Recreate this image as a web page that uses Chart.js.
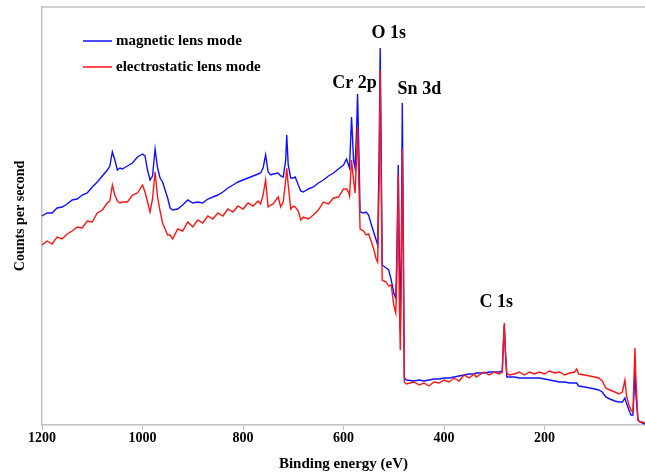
<!DOCTYPE html>
<html>
<head>
<meta charset="utf-8">
<script src="https://cdn.jsdelivr.net/npm/chart.js@4"></script>
<style>
  html, body { margin: 0; padding: 0; background: #ffffff; }
  #wrap { width: 645px; height: 476px; position: relative; }
</style>
</head>
<body>
<div id="wrap"><canvas id="xps"></canvas></div>
<script>
// ====== colours ======
const BLUE_COLOR = '#1010ff';   // magnetic lens mode
const RED_COLOR = '#ff1414';    // electrostatic lens mode
const FRAME_COLOR = '#c0c0c0';
const SERIF = '"Liberation Serif", "Times New Roman", serif';

// ====== data (binding energy, eV / counts per second, a.u.) ======
const ENERGY = [
  1200, 1190, 1180, 1170, 1160, 1150, 1140, 1130, 1120, 1110, 1100, 1090, 1080, 1070, 1065, 1060, 1055, 1050, 1045, 1040,
  1030, 1020, 1010, 1000, 995, 990, 985, 980, 975, 970, 965, 960, 955, 950, 945, 940, 930, 920, 910, 900,
  890, 880, 870, 860, 850, 840, 830, 820, 810, 800, 790, 780, 770, 765, 760, 755, 750, 745, 740, 730,
  725, 720, 715, 713, 710, 705, 700, 696, 690, 685, 680, 670, 660, 650, 640, 630, 620, 610, 600, 594,
  590, 588, 584, 580, 577, 574, 572, 569, 567, 560, 555, 550, 545, 540, 535, 532, 529, 527, 525, 523,
  515, 510, 505, 500, 496, 494, 491, 489, 487, 485, 483, 481, 479, 475, 460, 449, 440, 430, 420, 410,
  400, 390, 380, 370, 360, 350, 340, 336, 320, 310, 300, 290, 284, 282, 280, 278, 275, 270, 260, 250,
  240, 230, 220, 210, 200, 190, 180, 170, 160, 150, 140, 136, 132, 120, 110, 100, 92, 85, 78, 70,
  60, 52, 45, 40, 37, 32, 28, 24, 22, 20, 18, 14, 10, 5, 0
];

const MAGNETIC = [
  209, 212, 212, 217, 218, 221, 225, 226, 230, 232, 238, 243, 249, 255, 259, 273, 265, 255, 257, 256,
  259, 262, 268, 271, 269, 255, 245, 249, 276, 257, 247, 243, 235, 227, 217, 215, 216, 220, 225, 222,
  223, 222, 226, 228, 230, 233, 237, 240, 243, 245, 247, 249, 251, 252, 257, 270, 253, 250, 251, 252,
  249, 248, 265, 290, 260, 247, 247, 248, 240, 234, 233, 236, 238, 242, 245, 249, 252, 256, 260, 266,
  260, 257, 308, 265, 257, 295, 331, 265, 213, 212, 213, 210, 201, 193, 185, 180, 275, 377, 275, 160,
  157, 155, 145, 132, 127, 165, 260, 175, 95, 175, 322, 195, 47, 45, 44, 45, 44, 45, 46, 46,
  47, 47, 48, 49, 50, 51, 51, 52, 52, 53, 53, 53, 54, 80, 100, 75, 48, 48, 48, 47,
  47, 47, 47, 47, 46, 45, 44, 43, 43, 42, 42, 42, 39, 38, 37, 36, 35, 33, 28, 26,
  24, 23, 23, 27, 22, 15, 10, 10, 30, 57, 30, 5, 3, 2, 1
];

const ELECTROSTATIC = [
  180, 184, 181, 188, 186, 191, 194, 198, 197, 204, 203, 212, 215, 222, 224, 240, 230, 224, 222, 223,
  223, 230, 232, 240, 233, 223, 213, 226, 253, 228, 214, 202, 196, 190, 190, 186, 196, 194, 203, 198,
  205, 202, 209, 206, 212, 209, 216, 213, 219, 216, 222, 219, 224, 221, 230, 245, 218, 220, 221, 228,
  218, 223, 245, 257, 240, 216, 219, 218, 214, 205, 208, 206, 210, 215, 223, 221, 227, 228, 236, 236,
  233, 229, 265, 245, 232, 265, 298, 235, 196, 194, 190, 191, 184, 176, 166, 163, 245, 355, 245, 145,
  143, 139, 140, 120, 112, 145, 250, 125, 75, 145, 276, 165, 43, 41, 43, 40, 42, 39, 43, 42,
  45, 43, 47, 44, 50, 47, 51, 48, 53, 50, 53, 51, 53, 80, 102, 75, 52, 50, 51, 53,
  50, 53, 51, 53, 51, 54, 52, 53, 50, 52, 53, 56, 51, 50, 49, 48, 47, 44, 37, 35,
  33, 31, 33, 45, 30, 20, 15, 13, 45, 77, 45, 5, 3, 3, 2
];

const SERIES_NAMES = ['magnetic lens mode', 'electrostatic lens mode'];
const X_TICKS = [1200, 1000, 800, 600, 400, 200];
const PEAK_NAMES = ['O 1s', 'Cr 2p', 'Sn 3d', 'C 1s'];

function toPoints(xs, ys) {
  return xs.map((x, i) => ({ x: x, y: ys[i] }));
}

// ====== frame line on top of the plot ======
const frameTopPlugin = {
  id: 'frameTop',
  afterDraw(chart) {
    const { ctx, chartArea: { left, right, top } } = chart;
    ctx.save();
    ctx.strokeStyle = FRAME_COLOR;
    ctx.lineWidth = 1.5;
    ctx.beginPath();
    ctx.moveTo(left, top);
    ctx.lineTo(right, top);
    ctx.stroke();
    ctx.restore();
  }
};

// ====== legend inside the plot ======
const innerLegendPlugin = {
  id: 'innerLegend',
  afterDraw(chart, args, opts) {
    const { ctx, chartArea } = chart;
    ctx.save();
    ctx.font = 'bold 15px ' + SERIF;
    ctx.textBaseline = 'middle';
    ctx.textAlign = 'left';
    const x0 = chartArea.left + opts.offsetX;
    chart.data.datasets.forEach((ds, i) => {
      const y = chartArea.top + opts.offsetY + i * opts.rowGap;
      ctx.strokeStyle = ds.borderColor;
      ctx.lineWidth = 1.5;
      ctx.beginPath();
      ctx.moveTo(x0, y);
      ctx.lineTo(x0 + opts.lineLen, y);
      ctx.stroke();
      ctx.fillStyle = '#000000';
      ctx.fillText(ds.label, x0 + opts.lineLen + 4, y);
    });
    ctx.restore();
  }
};

// ====== peak names ======
const peakLabelPlugin = {
  id: 'peakLabel',
  afterDatasetsDraw(chart, args, opts) {
    const { ctx } = chart;
    const xs = chart.scales.x;
    const ys = chart.scales.y;
    ctx.save();
    ctx.font = 'bold 18px ' + SERIF;
    ctx.fillStyle = '#000000';
    ctx.textAlign = 'center';
    ctx.textBaseline = 'middle';
    opts.labels.forEach(l => {
      ctx.fillText(l.text, xs.getPixelForValue(l.x), ys.getPixelForValue(l.y));
    });
    ctx.restore();
  }
};

Chart.register(frameTopPlugin, innerLegendPlugin, peakLabelPlugin);

const ctx = document.getElementById('xps').getContext('2d');

new Chart(ctx, {
  type: 'line',
  data: {
    datasets: [
      {
        label: SERIES_NAMES[0],
        data: toPoints(ENERGY, MAGNETIC),
        borderColor: BLUE_COLOR,
        borderWidth: 1.4,
        pointRadius: 0,
        tension: 0,
        order: 1
      },
      {
        label: SERIES_NAMES[1],
        data: toPoints(ENERGY, ELECTROSTATIC),
        borderColor: RED_COLOR,
        borderWidth: 1.4,
        pointRadius: 0,
        tension: 0,
        order: 0
      }
    ]
  },
  options: {
    responsive: true,
    maintainAspectRatio: false,
    animation: false,
    layout: { padding: { top: 7, right: 0, bottom: 0, left: 0 } },
    scales: {
      x: {
        type: 'linear',
        reverse: true,
        min: 0,
        max: 1200,
        afterBuildTicks: s => { s.ticks = X_TICKS.map(v => ({ value: v })); },
        afterFit: s => { s.height = 51; },
        ticks: {
          color: '#000000',
          padding: 0,
          maxRotation: 0,
          callback: v => String(v),
          font: { family: SERIF, size: 14, weight: 'bold' }
        },
        grid: {
          drawOnChartArea: false,
          drawTicks: true,
          tickLength: 5,
          color: FRAME_COLOR
        },
        border: { display: true, color: FRAME_COLOR, width: 1.5 },
        title: {
          display: true,
          text: 'Binding energy (eV)',
          color: '#000000',
          padding: { top: 0, bottom: 3 },
          font: { family: SERIF, size: 15, weight: 'bold' }
        }
      },
      y: {
        min: 0,
        max: 418,
        afterFit: s => { s.width = 42; },
        ticks: { display: false },
        grid: { drawOnChartArea: false, drawTicks: false },
        border: { display: true, color: FRAME_COLOR, width: 1.5 },
        title: {
          display: true,
          text: 'Counts per second',
          color: '#000000',
          padding: { top: 12, bottom: 0 },
          font: { family: SERIF, size: 14, weight: 'bold' }
        }
      }
    },
    plugins: {
      legend: { display: false },
      tooltip: { enabled: false },
      innerLegend: { offsetX: 41, offsetY: 34, rowGap: 26, lineLen: 29 },
      peakLabel: {
        labels: [
          { text: PEAK_NAMES[0], x: 510, y: 392 },
          { text: PEAK_NAMES[1], x: 578, y: 342 },
          { text: PEAK_NAMES[2], x: 449, y: 336 },
          { text: PEAK_NAMES[3], x: 296, y: 123 }
        ]
      }
    }
  }
});
</script>
</body>
</html>
